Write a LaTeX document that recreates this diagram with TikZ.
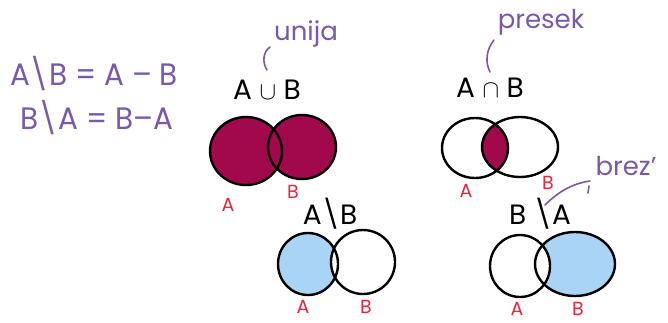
\documentclass[tikz,border=0pt]{standalone}
\usepackage{fontspec}
\setmainfont{Poppins}
\definecolor{purp}{HTML}{7A58AA}
\definecolor{wine}{HTML}{A2084C}
\definecolor{redlab}{HTML}{E8263C}
\definecolor{sky}{HTML}{AAD4F6}
\begin{document}
\begin{tikzpicture}[x=1pt,y=-1pt,
  ring/.style={draw=black,line width=2.4pt},
  note/.style={text=purp,inner sep=0pt},
  setlab/.style={text=black,inner sep=0pt,font=\fontsize{28}{28}\selectfont},
  redlabel/.style={text=redlab,inner sep=0pt,font=\fontsize{19}{19}\selectfont},
  bracket/.style={draw=purp,line width=1.6pt,line cap=round}]
\useasboundingbox (0,0) rectangle (668,322);
% notes
\node[note,font=\fontsize{31}{31}\selectfont,xscale=0.95] (eq1) at (94,74) {A\textbackslash B = A -- B};
\node[note,font=\fontsize{31}{31}\selectfont,xscale=0.95] (eq2) at (97,118) {B\textbackslash A = B--A};
% union
\node[setlab] (lu) at (267,90) {A $\cup$ B};
\node[note,font=\fontsize{26}{26}\selectfont] (unija) at (306,34) {unija};
\coordinate (ub1) at (267,70); \coordinate (ub2) at (270,47);
\draw[bracket] (ub1) .. controls (262,62) and (263,52) .. (ub2);
\fill[wine] (246,151) ellipse [x radius=36pt,y radius=34pt];
\fill[wine] (302,147) ellipse [x radius=34pt,y radius=32pt];
\draw[ring] (246,151) ellipse [x radius=36pt,y radius=34pt];
\draw[ring] (302,147) ellipse [x radius=34pt,y radius=32pt];
\node[redlabel] (uA) at (228,205) {A};
\node[redlabel] (uB) at (293,192) {B};
% intersection
\node[setlab] (li) at (490,88) {A $\cap$ B};
\node[note,font=\fontsize{26}{26}\selectfont] (presek) at (541,22) {presek};
\coordinate (pb1) at (490,72); \coordinate (pb2) at (494,40);
\draw[bracket] (pb1) .. controls (485,62) and (486,50) .. (pb2);
\begin{scope}
  \clip (475,148) ellipse [x radius=33pt,y radius=30pt];
  \fill[wine] (520,147) ellipse [x radius=38pt,y radius=30pt];
\end{scope}
\draw[ring] (475,148) ellipse [x radius=33pt,y radius=30pt];
\draw[ring] (520,147) ellipse [x radius=38pt,y radius=30pt];
\node[redlabel] (iA) at (466,191) {A};
\node[redlabel] (iB) at (548,183) {B};
% A \ B
\node[setlab] (ld) at (330,214) {A\textbackslash B};
\begin{scope}
  \clip (308,264) ellipse [x radius=30pt,y radius=31pt];
  \fill[sky] (308,264) ellipse [x radius=30pt,y radius=31pt];
  \fill[white] (363,262) ellipse [x radius=32pt,y radius=32pt];
\end{scope}
\draw[ring] (308,264) ellipse [x radius=30pt,y radius=31pt];
\draw[ring] (363,262) ellipse [x radius=32pt,y radius=32pt];
\node[redlabel] (dA) at (303,307) {A};
\node[redlabel] (dB) at (366,307) {B};
% B \ A
\node[setlab] (le) at (540,214) {B \textbackslash A};
\node[note,font=\fontsize{26}{26}\selectfont] (brez) at (626,166) {brez'};
\coordinate (bl1) at (545,205); \coordinate (bl2) at (590,181);
\draw[bracket] (bl1) .. controls (560,190) and (575,183) .. (bl2);
\coordinate (bt1) at (589,186); \coordinate (bt2) at (588,193);
\draw[bracket] (bt1) -- (bt2);
\begin{scope}
  \clip (575,264) ellipse [x radius=40pt,y radius=32pt];
  \fill[sky] (575,264) ellipse [x radius=40pt,y radius=32pt];
  \fill[white] (520,266) ellipse [x radius=30pt,y radius=31pt];
\end{scope}
\draw[ring] (520,266) ellipse [x radius=30pt,y radius=31pt];
\draw[ring] (575,264) ellipse [x radius=40pt,y radius=32pt];
\node[redlabel] (eA) at (517,309) {A};
\node[redlabel] (eB) at (578,309) {B};
\end{tikzpicture}
\end{document}
